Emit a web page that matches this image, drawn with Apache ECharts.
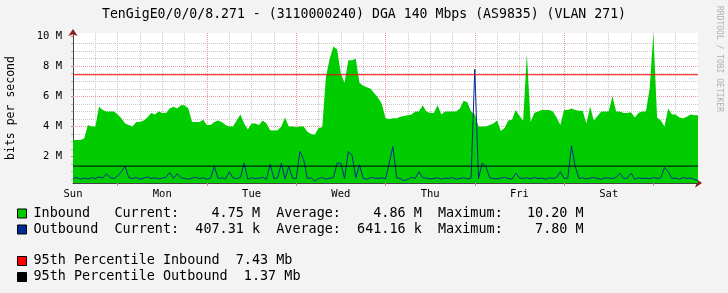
<!DOCTYPE html>
<html><head><meta charset="utf-8">
<script src="https://cdn.jsdelivr.net/npm/echarts@6/dist/echarts.min.js"></script>
<style>html,body{margin:0;padding:0;background:#f3f3f3;}#c{width:728px;height:293px;}</style>
</head><body><div id="c"></div>
<script>
const chartTitle = 'TenGigE0/0/0/8.271 - (3110000240) DGA 140 Mbps (AS9835) (VLAN 271)';
const yAxisName = 'bits per second';
const dayLabels = ['Sun','Mon','Tue','Wed','Thu','Fri','Sat'];
const yMajorTicks = [2,4,6,8,10];
const yMinorTicks = [0.5,1,1.5,2,2.5,3,3.5,4,4.5,5,5.5,6,6.5,7,7.5,8,8.5,9,9.5,10];
const xMajorTicks = [12,36,60,84,108,132,156];
const seriesNames = ['Inbound','Outbound','95th Percentile Inbound','95th Percentile Outbound'];
// hourly samples (Mbit/s) from Sun 00:00
const inbound = [
3.1,3.1,3.1,3.2,4.1,4.0,4.0,5.3,5.1,5.0,
5.0,5.0,4.8,4.55,4.2,4.1,4.0,4.3,4.3,4.4,
4.6,4.9,4.8,5.0,4.9,4.9,5.2,5.3,5.2,5.4,
5.4,5.2,4.3,4.3,4.3,4.44,4.1,4.1,4.3,4.4,
4.3,4.1,4.0,4.0,4.4,4.8,4.2,3.8,4.2,4.2,
4.1,4.4,4.2,3.75,3.73,3.75,4.0,4.6,4.0,4.0,
3.95,4.0,4.0,3.65,3.5,3.45,3.9,3.95,7.3,8.5,
9.3,9.1,7.5,6.9,8.4,8.4,8.5,6.9,6.7,6.6,
6.5,6.2,5.9,5.5,4.55,4.5,4.55,4.55,4.65,4.7,
4.75,4.8,5.0,5.0,5.4,5.0,4.9,4.9,5.4,4.8,
5.0,5.0,5.0,5.0,5.2,5.7,5.6,5.0,4.8,4.0,
4.0,4.0,4.1,4.2,4.4,3.7,3.9,4.4,4.45,5.1,
4.7,4.4,8.8,4.3,4.9,5.0,5.1,5.1,5.1,5.0,
4.6,4.1,5.1,5.1,5.2,5.1,5.05,5.05,4.2,5.3,
4.4,4.7,5.0,5.0,5.0,6.0,5.0,5.0,4.9,4.9,
4.95,4.6,4.9,5.0,5.0,6.5,10.2,4.6,4.4,4.0,
5.2,4.8,4.8,4.6,4.55,4.65,4.8,4.75,4.75
];
const outbound = [
0.55,0.62,0.5,0.58,0.52,0.6,0.55,0.65,0.58,0.86,
0.6,0.55,0.7,1.0,1.35,0.6,0.55,0.62,0.5,0.58,
0.65,0.55,0.6,0.52,0.58,0.62,0.95,0.55,0.86,0.6,
0.55,0.5,0.58,0.62,0.55,0.6,0.5,0.58,1.35,0.55,
0.6,0.52,1.0,0.58,0.55,0.62,1.57,0.5,0.6,0.55,
0.58,0.62,0.5,1.5,0.55,0.6,1.57,0.52,1.35,0.58,
0.55,2.34,1.8,0.55,0.6,0.38,0.55,0.62,0.5,0.58,
0.6,1.57,1.57,0.55,2.34,2.1,0.6,1.46,0.55,0.5,
0.62,0.58,0.55,0.6,0.52,1.57,2.67,0.6,0.55,0.4,
0.5,0.62,0.55,1.0,0.6,0.58,0.52,0.55,0.6,0.5,
0.58,0.55,0.62,0.5,0.55,0.6,0.52,0.58,7.8,0.55,
1.57,1.35,0.6,0.55,0.52,0.58,0.62,0.55,0.5,0.9,
0.58,0.55,0.6,0.52,0.62,0.55,0.58,0.5,0.6,0.55,
0.62,1.0,0.55,0.58,2.72,1.35,0.55,0.6,0.52,0.58,
0.62,0.55,0.5,0.6,0.58,0.55,0.62,0.9,0.55,0.58,
0.9,0.5,0.6,0.55,0.58,0.52,0.62,0.55,0.6,1.28,
1.0,0.55,0.58,0.5,0.62,0.55,0.58,0.5,0.41
];
const inboundStats = ['4.75 M','4.86 M','10.20 M'];
const outboundStats = ['407.31 k','641.16 k','7.80 M'];
const percentile95 = [7.43, 1.37];

const MONO = 'DejaVu Sans Mono';
const hours = inbound.map((_, i) => i);
const lastHour = hours[hours.length - 1];
const inData = inbound.map((v, i) => [hours[i], v]);
const outData = outbound.map((v, i) => [hours[i], v]);
const p95InData = [[0, percentile95[0]], [lastHour, percentile95[0]]];
const p95OutData = [[0, percentile95[1]], [lastHour, percentile95[1]]];

function statRow(name, st) {
  return name.padEnd(10) + 'Current:' + st[0].padStart(10) + '  Average:' + st[1].padStart(10) + '  Maximum:' + st[2].padStart(10);
}
const legendText = {};
legendText[seriesNames[0]] = statRow(seriesNames[0], inboundStats);
legendText[seriesNames[1]] = statRow(seriesNames[1], outboundStats);
legendText[seriesNames[2]] = seriesNames[2] + '  ' + percentile95[0].toFixed(2) + ' Mb';
legendText[seriesNames[3]] = seriesNames[3] + '  ' + percentile95[1].toFixed(2) + ' Mb';

const legendCommon = {
  orient: 'vertical', left: 17, padding: 0, itemWidth: 9, itemHeight: 9, itemGap: 0, icon: 'rect',
  selectedMode: false,
  itemStyle: { borderColor: '#000', borderWidth: 1 },
  textStyle: { fontFamily: MONO, fontSize: 13.45, color: '#000', lineHeight: 16, padding: [0,0,0,2] },
  formatter: n => legendText[n]
};

const chart = echarts.init(document.getElementById('c'), null, { renderer: 'canvas', width: 728, height: 293 });
chart.setOption({
  animation: false,
  backgroundColor: '#f3f3f3',
  title: { text: chartTitle, left: 'center', top: 3,
    textStyle: { fontFamily: MONO, fontSize: 13.2, fontWeight: 'normal', color: '#000' } },
  legend: [
    Object.assign({}, legendCommon, { data: [seriesNames[0], seriesNames[1]], top: 205.5 }),
    Object.assign({}, legendCommon, { data: [seriesNames[2], seriesNames[3]], top: 253 })
  ],
  grid: { left: 73, right: 30, top: 33, bottom: 110, show: true, backgroundColor: '#fff', borderWidth: 0,
    containLabel: false, outerBoundsMode: 'none' },
  xAxis: [
    { type: 'value', position: 'bottom', min: 0, max: 168, interval: 6, z: 0,
      axisLine: { show: true, onZero: false, lineStyle: { color: '#444', width: 1 } },
      axisTick: { show: false },
      axisLabel: { formatter: v => (v % 24 === 0 && v < 168) ? dayLabels[v / 24] : '', margin: 6,
        fontFamily: MONO, fontSize: 10.5, color: '#000' },
      splitLine: { show: true, showMinLine: false, showMaxLine: false, lineStyle: { color: '#c8c8c8', type: [1, 1], width: 1 } } },
    { type: 'value', position: 'bottom', min: 0, max: 168, z: 1,
      axisLine: { show: true, onZero: false, symbol: ['none', 'arrow'], symbolSize: [7, 7], symbolOffset: [0, 4],
        lineStyle: { color: '#8b1a1a', width: 0 } },
      axisTick: { show: true, length: 3, customValues: xMajorTicks, lineStyle: { color: '#e08080' } },
      axisLabel: { show: false },
      splitLine: { show: true, showMinLine: false, showMaxLine: false, lineStyle: { color: '#eb9a9a', type: [1, 1], width: 1 } } }
  ],
  yAxis: [
    { type: 'value', position: 'left', min: 0.25, max: 10.2, splitNumber: 20, z: 0,
      axisLine: { show: true, onZero: false, lineStyle: { color: '#444', width: 1 } },
      axisTick: { show: true, length: 2, customValues: yMinorTicks, lineStyle: { color: '#bbb' } },
      axisLabel: { show: false },
      splitLine: { show: true, showMinLine: false, showMaxLine: false, lineStyle: { color: '#c8c8c8', type: [1, 1], width: 1 } } },
    { type: 'value', position: 'left', min: 0.25, max: 10.2, splitNumber: 5, z: 1,
      name: yAxisName, nameLocation: 'middle', nameRotate: 90, nameGap: 56,
      nameTextStyle: { fontFamily: MONO, fontSize: 11.5, color: '#000' },
      axisLine: { show: true, onZero: false, symbol: ['none', 'arrow'], symbolSize: [7, 7], symbolOffset: [0, 4],
        lineStyle: { color: '#8b1a1a', width: 0 } },
      axisTick: { show: true, length: 2, customValues: yMajorTicks, lineStyle: { color: '#e08080' } },
      axisLabel: { customValues: yMajorTicks, formatter: v => (v % 2 === 0 ? v + ' M' : ''), margin: 11,
        fontFamily: MONO, fontSize: 10.5, color: '#000' },
      splitLine: { show: true, showMinLine: false, showMaxLine: false, lineStyle: { color: '#eb9a9a', type: [1, 1], width: 1 } } }
  ],
  series: [
    { name: seriesNames[0], type: 'line', data: inData, symbol: 'none', z: 2,
      itemStyle: { color: '#00cc00' }, lineStyle: { color: '#00cc00', width: 0 },
      areaStyle: { color: '#00cc00', opacity: 1 } },
    { name: seriesNames[1], type: 'line', data: outData, symbol: 'none', z: 3,
      itemStyle: { color: '#002a97' }, lineStyle: { color: '#002a97', width: 1 } },
    { name: seriesNames[2], type: 'line', data: p95InData, symbol: 'none', z: 4,
      itemStyle: { color: '#ff0000' }, lineStyle: { color: '#ff0000', width: 1 } },
    { name: seriesNames[3], type: 'line', data: p95OutData, symbol: 'none', z: 4,
      itemStyle: { color: '#000000' }, lineStyle: { color: '#000000', width: 1 } }
  ],
  graphic: [
    { type: 'text', x: 719, y: 6, rotation: -Math.PI / 2, silent: true,
      style: { text: 'RRDTOOL / TOBI OETIKER', fill: '#b0b0b0', font: '8px "DejaVu Sans Mono"', verticalAlign: 'middle', align: 'left' } }
  ]
});
</script></body></html>
